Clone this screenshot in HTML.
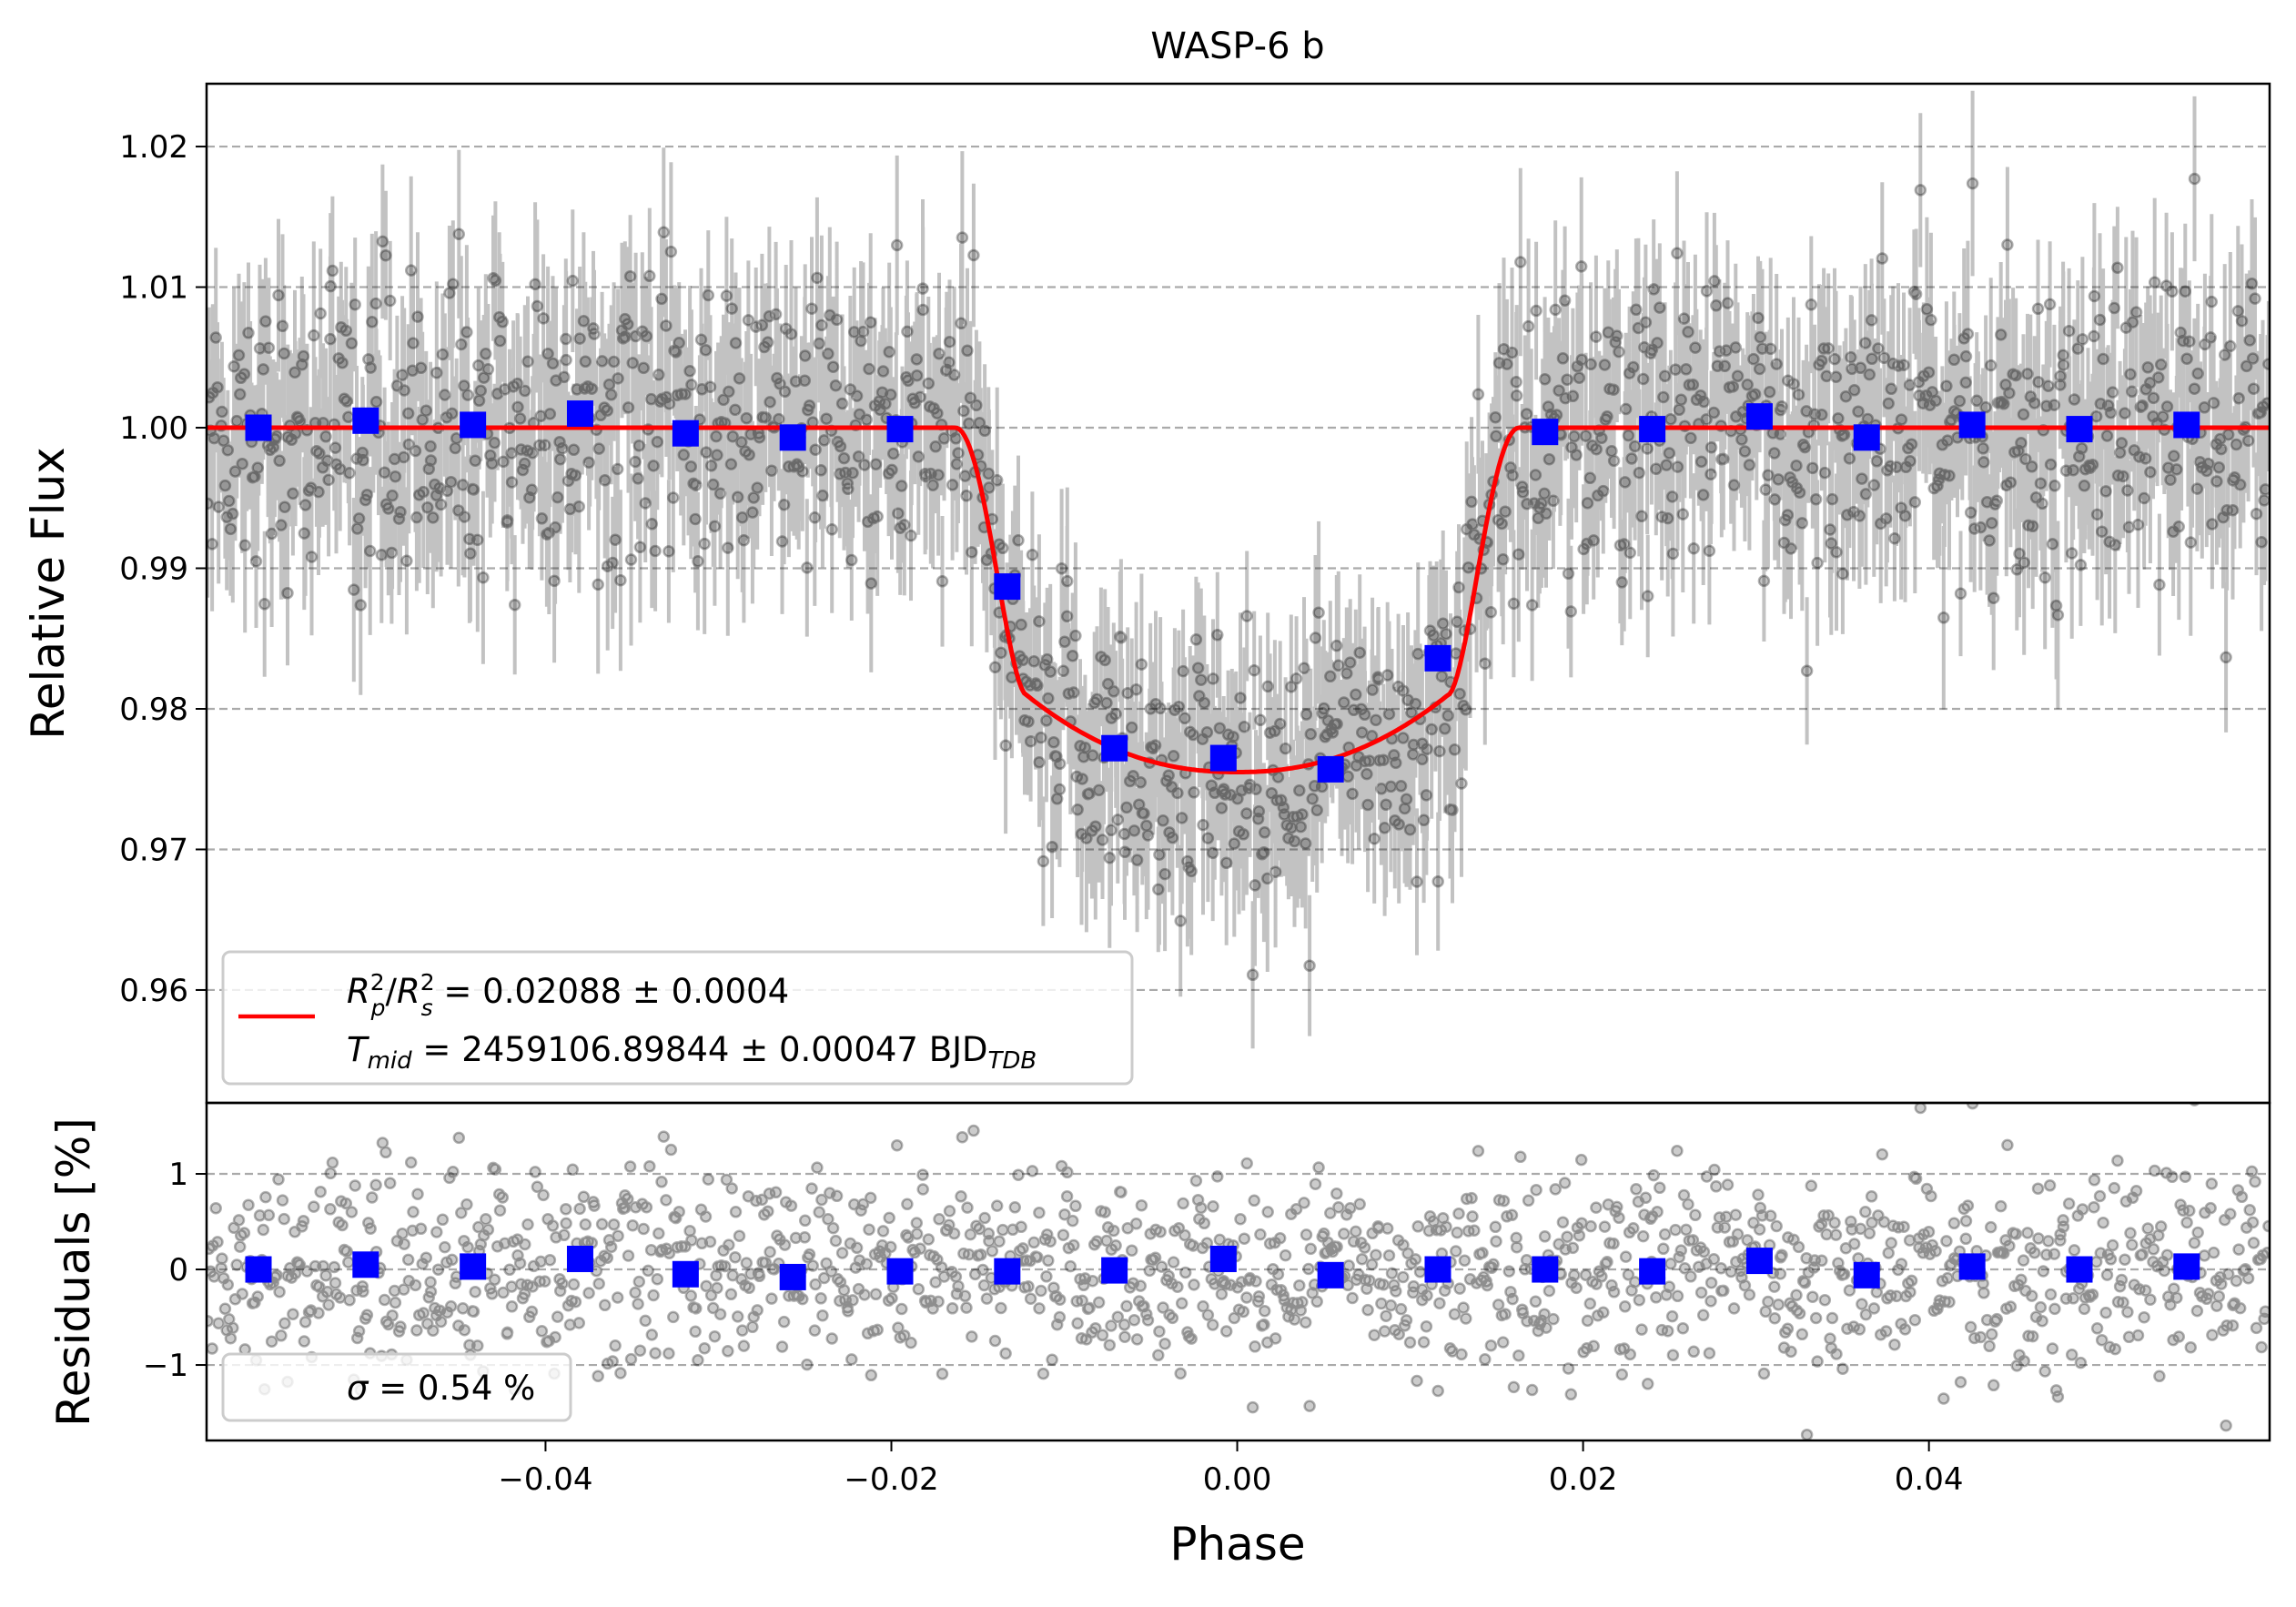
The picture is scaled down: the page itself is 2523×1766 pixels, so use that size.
<!DOCTYPE html>
<html><head><meta charset="utf-8">
<style>
html,body{margin:0;padding:0;background:#fff;}
svg text{font-family:"DejaVu Sans","Liberation Sans",sans-serif;fill:#000;}
</style></head>
<body>
<svg id="chart" width="2523" height="1761" viewBox="0 0 2523 1761" xmlns="http://www.w3.org/2000/svg">
<rect width="2523" height="1761" fill="#fff"/>
<text x="1360" y="64" font-size="40" text-anchor="middle">WASP-6 b</text>
<g id="grid"></g>
<g id="raw"></g>
<g id="model"></g>
<g id="bins"></g>
<g id="axes"></g>
<g>
<rect x="245" y="1046" width="999" height="145" rx="8" fill="#fff" fill-opacity="0.8" stroke="#ccc" stroke-width="3"/>
<line x1="262" y1="1117" x2="346" y2="1117" stroke="#ff0000" stroke-width="4.5"/>
<text x="381" y="1102" font-size="37"><tspan font-style="italic">R</tspan><tspan font-size="25" dy="-14">2</tspan><tspan font-size="25" font-style="italic" dx="-15" dy="28">p</tspan><tspan dy="-14">/</tspan><tspan font-style="italic">R</tspan><tspan font-size="25" dy="-14">2</tspan><tspan font-size="25" font-style="italic" dx="-15" dy="28">s</tspan><tspan dy="-14"> = 0.02088 ± 0.0004</tspan></text>
<text x="381" y="1166" font-size="37"><tspan font-style="italic">T</tspan><tspan font-size="26" font-style="italic" dy="8">mid</tspan><tspan dy="-8"> = 2459106.89844 ± 0.00047 BJD</tspan><tspan font-size="26" font-style="italic" dy="8">TDB</tspan></text>
</g>
<g>
<rect x="245" y="1488" width="382" height="73" rx="8" fill="#fff" fill-opacity="0.8" stroke="#ccc" stroke-width="3"/>
<text x="381" y="1538" font-size="37"><tspan font-style="italic">σ</tspan> = 0.54 %</text>
</g>
<text transform="translate(70,652) rotate(-90)" font-size="50" text-anchor="middle">Relative Flux</text>
<text transform="translate(98,1398) rotate(-90)" font-size="50" text-anchor="middle">Residuals [%]</text>
<text x="1360" y="1714" font-size="50" text-anchor="middle">Phase</text>
</svg>
<script>
// binned data
const binPhase=[-0.0566,-0.0504,-0.0442,-0.0380,-0.0319,-0.0257,-0.0195,-0.0133,-0.0071,-0.0008,0.0054,0.0116,0.0178,0.0240,0.0302,0.0364,0.0425,0.0487,0.0549];
const binFlux=[1.0000,1.0005,1.0002,1.0010,0.9996,0.9993,0.9999,0.9887,0.9772,0.9765,0.9757,0.9836,0.9997,0.9999,1.0008,0.9993,1.0002,0.9999,1.0002];
const binResid=[0.00,0.05,0.03,0.11,-0.05,-0.08,-0.02,-0.02,-0.01,0.11,-0.06,0.00,0.00,-0.02,0.09,-0.06,0.03,0.00,0.03];
const xTicks=[-0.04,-0.02,0.00,0.02,0.04];
const xTickLabels=["\u22120.04","\u22120.02","0.00","0.02","0.04"];
const yTicks=[0.96,0.97,0.98,0.99,1.00,1.01,1.02];
const yTickLabels=["0.96","0.97","0.98","0.99","1.00","1.01","1.02"];
const rTicks=[-1,0,1];
const rTickLabels=["\u22121","0","1"];
const modelParams=[0.0163,0.0122,0.9755,0.9810]; // t1, t2, center depth, depth at t2

const L=227,R=2494,T=92,MB=1212,RB=1583;
const xMin=-0.0596,xMax=0.0597,yMin=0.95197,yMax=1.02447,rMin=-1.79,rMax=1.743;
const X=v=>L+(v-xMin)/(xMax-xMin)*(R-L);
const Y=v=>MB-(v-yMin)/(yMax-yMin)*(MB-T);
const RY=v=>RB-(v-rMin)/(rMax-rMin)*(RB-MB);
const NS="http://www.w3.org/2000/svg";
function mk(tag,attrs,parent){const e=document.createElementNS(NS,tag);for(const k in attrs)e.setAttribute(k,attrs[k]);parent.appendChild(e);return e;}
function model(p){const [t1,t2,d0,d2]=modelParams;const a=Math.abs(p);
 if(a>=t1)return 1;
 if(a<=t2){return d0+(d2-d0)*Math.pow(a/t2,2.2);}
 const s=(a-t2)/(t1-t2);return d2+(1-d2)*(0.5-0.5*Math.cos(Math.PI*Math.pow(s,0.85)));}
const grid=document.getElementById('grid'),axes=document.getElementById('axes');
yTicks.forEach((v,i)=>{
 const g=mk('line',{x1:L,x2:R,y1:Y(v),y2:Y(v),stroke:'#aaa','stroke-width':2.2,'stroke-dasharray':'9,5'},grid);
 
 mk('line',{x1:L-12,x2:L,y1:Y(v),y2:Y(v),stroke:'#000','stroke-width':2},axes);
 const t=mk('text',{x:L-20,y:Y(v)+12,'font-size':34,'text-anchor':'end'},axes);t.textContent=yTickLabels[i];
 
});
rTicks.forEach((v,i)=>{
 const g=mk('line',{x1:L,x2:R,y1:RY(v),y2:RY(v),stroke:'#aaa','stroke-width':2.2,'stroke-dasharray':'9,5'},grid);
 
 mk('line',{x1:L-12,x2:L,y1:RY(v),y2:RY(v),stroke:'#000','stroke-width':2},axes);
 const t=mk('text',{x:L-20,y:RY(v)+12,'font-size':34,'text-anchor':'end'},axes);t.textContent=rTickLabels[i];
 
});
xTicks.forEach((v,i)=>{
 mk('line',{x1:X(v),x2:X(v),y1:RB,y2:RB+12,stroke:'#000','stroke-width':2},axes);
 const t=mk('text',{x:X(v),y:RB+54,'font-size':34,'text-anchor':'middle'},axes);t.textContent=xTickLabels[i];
 
});
const f1=mk('rect',{x:L,y:T,width:R-L,height:MB-T,fill:'none',stroke:'#000','stroke-width':2.5},axes);

const f2=mk('rect',{x:L,y:MB,width:R-L,height:RB-MB,fill:'none',stroke:'#000','stroke-width':2.5},axes);


// raw observation cloud (texture; individual points not legible in the source)
let seed=12345;function rnd(){seed=(seed*1103515245+12345)%2147483648;return seed/2147483648;}
function gauss(){return Math.sqrt(-2*Math.log(rnd()+1e-9))*Math.cos(2*Math.PI*rnd());}
const raw=document.getElementById('raw');
const N=1400;
let pathE='',pathP='',pathR='';
for(let i=0;i<N;i++){
 const p=xMin+(i+rnd())/N*(xMax-xMin);
 const r=gauss()*0.0052;
 const f=model(p)+r;const e=0.0042+rnd()*0.0025;
 const x=X(p).toFixed(1);
 pathE+=`M${x} ${Y(f-e).toFixed(1)}V${Y(f+e).toFixed(1)}`;
 const cy=Y(f),ry=RY(r*100);
 pathP+=`M${(X(p)-5.5).toFixed(1)} ${cy.toFixed(1)}a5.5 5.5 0 1 0 11 0a5.5 5.5 0 1 0 -11 0`;
 pathR+=`M${(X(p)-5.5).toFixed(1)} ${ry.toFixed(1)}a5.5 5.5 0 1 0 11 0a5.5 5.5 0 1 0 -11 0`;
}
const cp=mk('clipPath',{id:'clipMain'},raw);mk('rect',{x:L,y:T,width:R-L,height:MB-T},cp);
const cr=mk('clipPath',{id:'clipRes'},raw);mk('rect',{x:L,y:MB,width:R-L,height:RB-MB},cr);
const eb=mk('path',{d:pathE,stroke:'#000','stroke-opacity':0.24,'stroke-width':4,fill:'none','clip-path':'url(#clipMain)'},raw);

const pts=mk('path',{d:pathP,fill:'#000','fill-opacity':0.22,stroke:'#000','stroke-opacity':0.3,'stroke-width':2.5,'clip-path':'url(#clipMain)'},raw);

const rp=mk('path',{d:pathR,fill:'#000','fill-opacity':0.2,stroke:'#000','stroke-opacity':0.3,'stroke-width':2.5,'clip-path':'url(#clipRes)'},raw);


// model curve
let d='';for(let i=0;i<=800;i++){const p=xMin+i/800*(xMax-xMin);d+=(i?'L':'M')+X(p).toFixed(1)+' '+Y(model(p)).toFixed(1);}
const mc=mk('path',{d:d,stroke:'#ff0000','stroke-width':5,fill:'none'},document.getElementById('model'));


const bins=document.getElementById('bins');
binPhase.forEach((p,i)=>{
 const b=mk('rect',{x:X(p)-14.5,y:Y(binFlux[i])-14.5,width:29,height:29,fill:'#0000ff'},bins);
 
 const c=mk('rect',{x:X(p)-14.5,y:RY(binResid[i])-14.5,width:29,height:29,fill:'#0000ff'},bins);
 
});
</script>
</body></html>
